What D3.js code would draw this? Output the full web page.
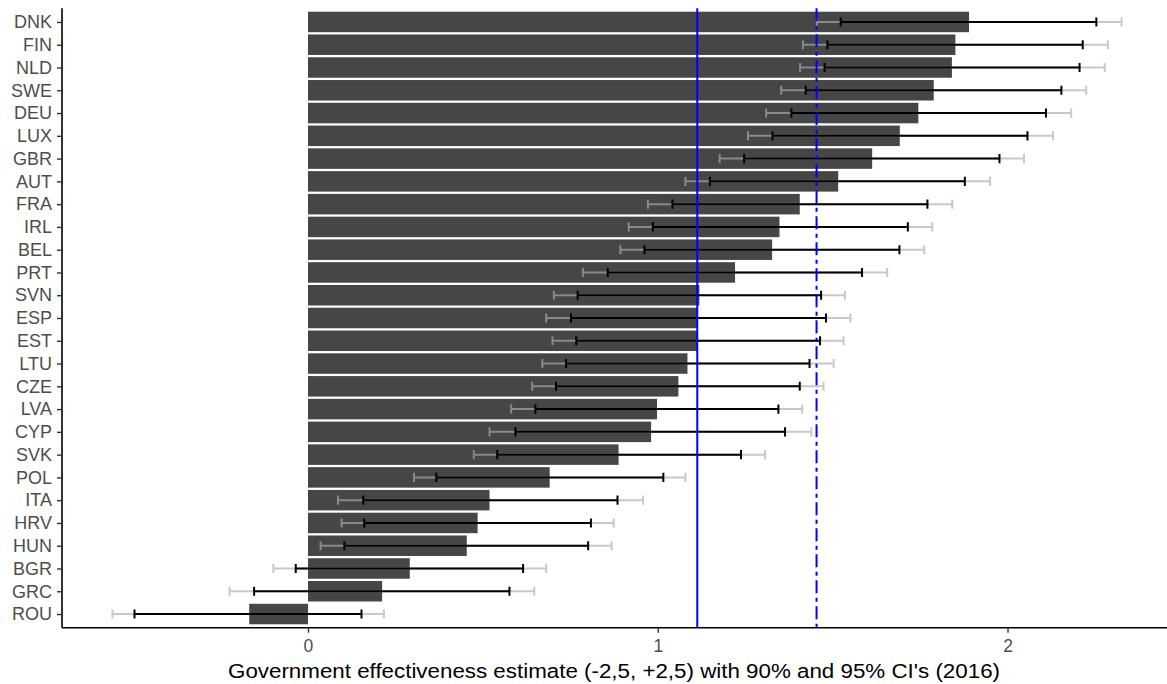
<!DOCTYPE html>
<html>
<head>
<meta charset="utf-8">
<script src="https://cdn.jsdelivr.net/npm/d3@7"></script>
<style>
  body { margin: 0; background: #fff; }
  svg { display: block; font-family: "Liberation Sans", Arial, sans-serif; }
</style>
</head>
<body>
<script>
var countries = ['DNK', 'FIN', 'NLD', 'SWE', 'DEU', 'LUX', 'GBR', 'AUT', 'FRA', 'IRL', 'BEL', 'PRT', 'SVN', 'ESP',
  'EST', 'LTU', 'CZE', 'LVA', 'CYP', 'SVK', 'POL', 'ITA', 'HRV', 'HUN', 'BGR', 'GRC', 'ROU'];
var estimate = [1.890, 1.851, 1.841, 1.789, 1.745, 1.692, 1.613, 1.516, 1.406, 1.348, 1.327, 1.221, 1.119, 1.115,
  1.115, 1.085, 1.059, 0.998, 0.981, 0.888, 0.691, 0.519, 0.485, 0.454, 0.291, 0.212, -0.168];
var lower90 = [1.523, 1.485, 1.477, 1.423, 1.382, 1.328, 1.247, 1.149, 1.042, 0.986, 0.962, 0.857, 0.771, 0.752,
  0.767, 0.738, 0.709, 0.650, 0.593, 0.541, 0.367, 0.158, 0.161, 0.104, -0.035, -0.154, -0.496];
var upper90 = [2.254, 2.215, 2.206, 2.154, 2.110, 2.057, 1.977, 1.878, 1.771, 1.715, 1.691, 1.584, 1.467, 1.481,
  1.464, 1.434, 1.406, 1.345, 1.364, 1.238, 1.016, 0.885, 0.809, 0.801, 0.615, 0.576, 0.153];
var lower95 = [1.455, 1.415, 1.407, 1.353, 1.310, 1.258, 1.177, 1.079, 0.972, 0.917, 0.893, 0.786, 0.703, 0.681,
  0.699, 0.670, 0.641, 0.581, 0.519, 0.474, 0.303, 0.086, 0.096, 0.036, -0.099, -0.224, -0.559];
var upper95 = [2.326, 2.287, 2.278, 2.225, 2.182, 2.130, 2.047, 1.950, 1.842, 1.785, 1.762, 1.656, 1.535, 1.551,
  1.531, 1.503, 1.474, 1.413, 1.439, 1.307, 1.079, 0.958, 0.874, 0.868, 0.681, 0.647, 0.217];
var refLines = [1.113, 1.454];
var xTicks = [0, 1, 2];
var xTitle = "Government effectiveness estimate (-2,5, +2,5) with 90% and 95% CI's (2016)";

var width = 1167, height = 684;
var plotLeft = 62, plotTop = 8.3, plotBottom = 627.7, plotRight = 1172;

var rows = countries.map(function(c, i) {
  return { name: c, est: estimate[i], lo90: lower90[i], hi90: upper90[i], lo95: lower95[i], hi95: upper95[i] };
});

// ggplot style 5% expansion around the data
var lo = d3.min(lower95), hi = d3.max(upper95);
var pad = (hi - lo) * 0.05;

var x = d3.scaleLinear().domain([lo - pad, hi + pad]).range([plotLeft, plotRight]);
var y = d3.scalePoint().domain(countries).range([plotTop, plotBottom]).padding(0.6);
var step = y.step();

var svg = d3.select('body').append('svg')
  .attr('width', width)
  .attr('height', height);

// bars
svg.append('g').selectAll('rect')
  .data(rows)
  .enter()
  .append('rect')
  .attr('x', function(d) { return x(Math.min(0, d.est)); })
  .attr('y', function(d) { return y(d.name) - step * 0.45; })
  .attr('width', function(d) { return Math.abs(x(d.est) - x(0)); })
  .attr('height', step * 0.9)
  .attr('fill', '#464646');

function errorbars(lowKey, highKey, color, opacity) {
  var g = svg.append('g')
    .attr('stroke', color)
    .attr('stroke-opacity', opacity)
    .attr('stroke-width', 2)
    .attr('fill', 'none');
  var cap = step * 0.2;
  g.selectAll('path')
    .data(rows)
    .enter()
    .append('path')
    .attr('d', function(d) {
      var yy = y(d.name), x1 = x(d[lowKey]), x2 = x(d[highKey]);
      return 'M' + x1 + ',' + (yy - cap) + 'V' + (yy + cap) +
        'M' + x1 + ',' + yy + 'H' + x2 +
        'M' + x2 + ',' + (yy - cap) + 'V' + (yy + cap);
    });
}

errorbars('lo95', 'hi95', '#acacac', 0.66);
errorbars('lo90', 'hi90', '#000', 1);

// reference lines
svg.append('g').selectAll('line')
  .data(refLines)
  .enter()
  .append('line')
  .attr('x1', function(d) { return x(d); })
  .attr('x2', function(d) { return x(d); })
  .attr('y1', plotTop)
  .attr('y2', plotBottom)
  .attr('stroke', '#0000ff')
  .attr('stroke-width', 2)
  .attr('stroke-dasharray', function(d, i) { return i == 1 ? '13,4.5,4,4.5' : null; });

// axes
var xAxis = svg.append('g')
  .attr('transform', 'translate(0,' + plotBottom + ')')
  .call(d3.axisBottom(x).tickValues(xTicks).tickFormat(d3.format('d')).tickSize(5).tickSizeOuter(0).tickPadding(7));

var yAxis = svg.append('g')
  .attr('transform', 'translate(' + plotLeft + ',0)')
  .call(d3.axisLeft(y).tickSize(5).tickSizeOuter(0).tickPadding(5));

[xAxis, yAxis].forEach(function(a) {
  a.attr('font-size', null).attr('font-family', null);
  a.select('.domain').attr('stroke', '#000').attr('stroke-width', 1.6);
  a.selectAll('.tick line').attr('stroke', '#333').attr('stroke-width', 1.4);
  a.selectAll('.tick text').attr('fill', '#4d4d4d');
});
xAxis.selectAll('.tick text').style('font-size', '17.5px');
yAxis.selectAll('.tick text').style('font-size', '18px');

// the x axis line in the reference runs on to the corner of the y axis
xAxis.select('.domain').attr('d', 'M' + plotLeft + ',0H' + plotRight);
yAxis.select('.domain').attr('d', 'M0,' + plotTop + 'V' + plotBottom);

svg.append('text')
  .attr('x', 614)
  .attr('y', 678)
  .attr('text-anchor', 'middle')
  .style('font-size', '20px')
  .attr('textLength', 772)
  .attr('lengthAdjust', 'spacingAndGlyphs')
  .attr('fill', '#000')
  .text(xTitle);
</script>
</body>
</html>
